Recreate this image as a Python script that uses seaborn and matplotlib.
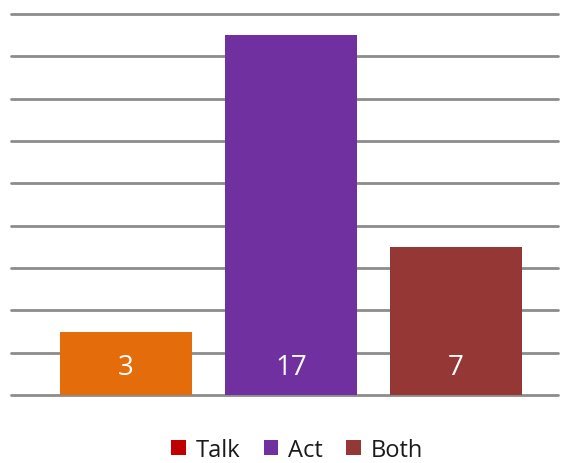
import matplotlib
matplotlib.use("Agg")
import matplotlib.pyplot as plt
from matplotlib.patches import Patch
import seaborn as sns
import pandas as pd

categories = ["Talk", "Act", "Both"]
values = [3, 17, 7]
bar_colors = ["#E46C0A", "#7030A0", "#953735"]
legend_colors = ["#C00000", "#7030A0", "#953735"]

sns.set_style("white")
plt.rcParams["font.family"] = ["Open Sans", "DejaVu Sans"]

df = pd.DataFrame({"category": categories, "value": values})

fig = plt.figure(figsize=(5.61, 4.64), dpi=100)
ax = fig.add_axes([11 / 561, 1 - 396 / 464, (558 - 11) / 561, (396 - 15) / 464])

sns.barplot(data=df, x="category", y="value", hue="category",
            palette=bar_colors, width=0.8, saturation=1, ax=ax,
            legend=False, zorder=3, linewidth=0, edgecolor="none")

ax.set_ylim(0, 18)
ax.set_yticks(range(0, 19, 2))
ax.set_xlim(-0.697, 2.62)
ax.yaxis.grid(True, color="#8C8C8C", linewidth=2, zorder=0)
for gl in ax.get_ygridlines():
    gl.set_clip_on(False)
ax.set_axisbelow(True)
ax.tick_params(left=False, bottom=False, labelleft=False, labelbottom=False)
ax.set_xlabel("")
ax.set_ylabel("")
for s in ax.spines.values():
    s.set_visible(False)

for i, v in enumerate(values):
    ax.text(i, 1.32, str(v), ha="center", va="center", color="white",
            fontsize=20, zorder=4)

handles = [Patch(facecolor=c, edgecolor="none") for c in legend_colors]
fig.legend(handles, categories, loc="center", bbox_to_anchor=(297 / 561, 1 - 451 / 464),
           ncol=3, frameon=False, fontsize=17, handlelength=0.62, handleheight=0.62,
           handletextpad=0.4, columnspacing=1.0, labelcolor="#1A1A1A")

fig.savefig("out.png", dpi=100)
